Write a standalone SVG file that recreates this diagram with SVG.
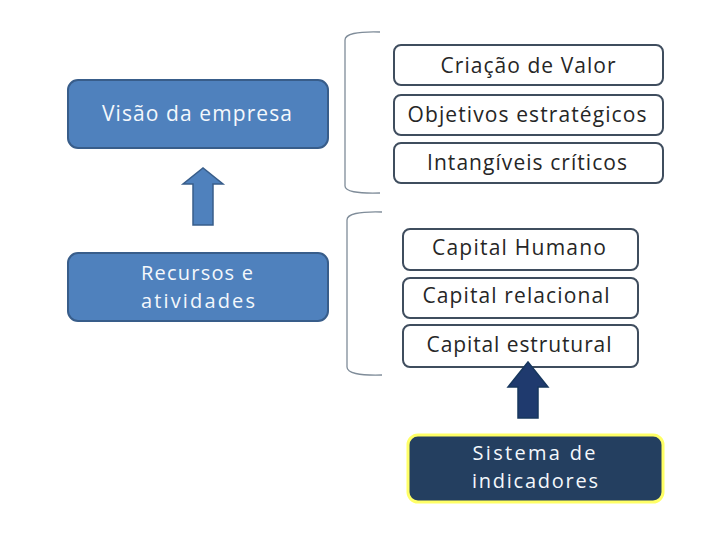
<svg xmlns="http://www.w3.org/2000/svg" width="720" height="540" viewBox="0 0 720 540">
<style>
.blue{fill:#4f81bd;stroke:#385d8a;stroke-width:2}
.white{fill:#ffffff;stroke:#3f4d5e;stroke-width:2}
.wt{font-family:"Open Sans","Liberation Sans",sans-serif;font-size:21px;fill:#f4f8fc;text-anchor:middle}
.w2{font-size:20px}
.dt{font-family:"Open Sans","Liberation Sans",sans-serif;font-size:21px;fill:#262626;text-anchor:middle}
.br{fill:none;stroke:#7f8c99;stroke-width:1.3}
</style>
<rect width="720" height="540" fill="#ffffff"/>
<g id="visao"><rect class="blue" x="68" y="80" width="260" height="68" rx="10"/><text class="wt" x="197" y="121" textLength="190" lengthAdjust="spacing">Visão da empresa</text></g>
<g id="recursos"><rect class="blue" x="68" y="253" width="260" height="68" rx="10"/><text class="wt w2" x="197" y="280" textLength="112" lengthAdjust="spacing">Recursos e</text><text class="wt w2" x="198" y="307.5" textLength="114" lengthAdjust="spacing">atividades</text></g>
<g id="criacao"><rect class="white" x="394" y="45" width="269" height="40" rx="7"/><text class="dt" x="528" y="73" textLength="175" lengthAdjust="spacing">Criação de Valor</text></g>
<g id="objetivos"><rect class="white" x="394" y="95" width="269" height="40" rx="7"/><text class="dt" x="527" y="122" textLength="239" lengthAdjust="spacing">Objetivos estratégicos</text></g>
<g id="intangiveis"><rect class="white" x="394" y="143" width="269" height="40" rx="7"/><text class="dt" x="527" y="170" textLength="200" lengthAdjust="spacing">Intangíveis críticos</text></g>
<g id="humano"><rect class="white" x="403" y="229" width="235" height="41" rx="7"/><text class="dt" x="519" y="255" textLength="174" lengthAdjust="spacing">Capital Humano</text></g>
<g id="relacional"><rect class="white" x="403" y="278" width="235" height="40" rx="7"/><text class="dt" x="516" y="303" textLength="187" lengthAdjust="spacing">Capital relacional</text></g>
<g id="estrutural"><rect class="white" x="403" y="325" width="235" height="42" rx="7"/><text class="dt" x="519" y="352" textLength="185" lengthAdjust="spacing">Capital estrutural</text></g>
<g id="sistema"><rect x="408" y="435" width="255" height="67" rx="10" fill="#243f60" stroke="#ffff66" stroke-width="3"/><text class="wt w2" x="534" y="460" textLength="123" lengthAdjust="spacing">Sistema  de</text><text class="wt w2" x="535" y="487.5" textLength="126" lengthAdjust="spacing">indicadores</text></g>
<g id="connectors">
<path class="br" d="M380 32 Q345 31 345 40 L345 186 Q345 194 380 193"/>
<path class="br" d="M382 212 Q347 211 347 220 L347 367 Q347 376 382 375"/>
<path d="M193 225 L193 184 L183 184 L203 168 L223 184 L213 184 L213 225 Z" fill="#4f81bd" stroke="#385d8a" stroke-width="1.5"/>
<path d="M518 418 L518 387 L508 387 L528 362 L548 387 L538 387 L538 418 Z" fill="#1f3a6e" stroke="#17375e" stroke-width="1.5"/>
</g>
</svg>
